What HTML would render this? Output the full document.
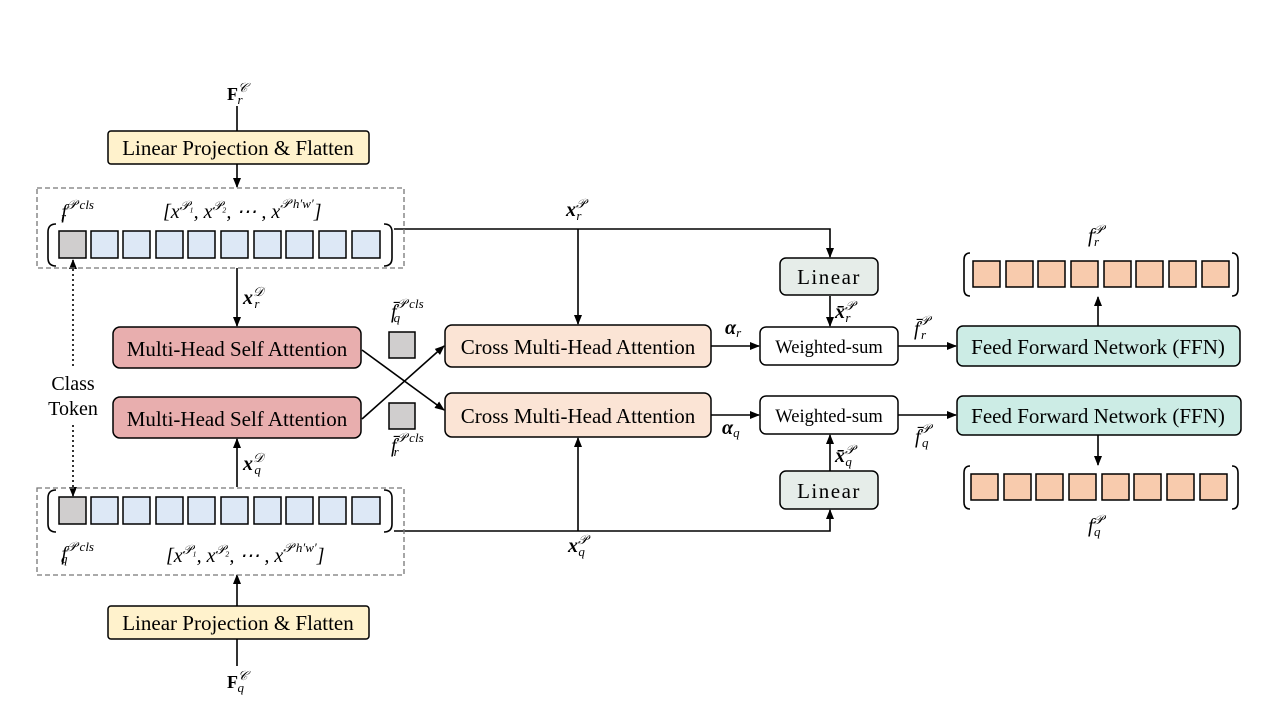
<!DOCTYPE html>
<html><head><meta charset="utf-8"><style>
body{margin:0;background:#fff;}
svg{display:block;font-family:"Liberation Serif",serif;}
.bx{font-size:21px;}
.m{font-style:italic;font-size:20px;}
.s{font-size:13px;font-style:italic;}
</style></head><body>
<svg width="1280" height="720" viewBox="0 0 1280 720" xmlns="http://www.w3.org/2000/svg">
<defs>
<marker id="a" markerWidth="10" markerHeight="10" refX="9" refY="5" orient="auto" markerUnits="userSpaceOnUse"><path d="M0,1 L10,5 L0,9 z" fill="#000"/></marker>
</defs>
<g stroke="#000" stroke-width="1.6" fill="none">
<line x1="237" y1="106" x2="237" y2="131"/>
<line x1="237" y1="164" x2="237" y2="187" marker-end="url(#a)"/>
<line x1="237" y1="268" x2="237" y2="326" marker-end="url(#a)"/>
<line x1="237" y1="487" x2="237" y2="439" marker-end="url(#a)"/>
<line x1="237" y1="606" x2="237" y2="575" marker-end="url(#a)"/>
<line x1="237" y1="639" x2="237" y2="666"/>
<polyline points="394,229 830,229 830,257" marker-end="url(#a)"/>
<line x1="578" y1="229" x2="578" y2="324" marker-end="url(#a)"/>
<polyline points="394,531 830,531 830,510" marker-end="url(#a)"/>
<line x1="578" y1="531" x2="578" y2="438" marker-end="url(#a)"/>
<line x1="362" y1="350" x2="444" y2="410" marker-end="url(#a)"/>
<line x1="362" y1="419" x2="444" y2="346" marker-end="url(#a)"/>
<line x1="711" y1="346" x2="759" y2="346" marker-end="url(#a)"/>
<line x1="711" y1="415" x2="759" y2="415" marker-end="url(#a)"/>
<line x1="830" y1="296" x2="830" y2="326" marker-end="url(#a)"/>
<line x1="830" y1="471" x2="830" y2="435" marker-end="url(#a)"/>
<line x1="898" y1="346" x2="956" y2="346" marker-end="url(#a)"/>
<line x1="898" y1="415" x2="956" y2="415" marker-end="url(#a)"/>
<line x1="1098" y1="326" x2="1098" y2="297" marker-end="url(#a)"/>
<line x1="1098" y1="435" x2="1098" y2="465" marker-end="url(#a)"/>
<line x1="73" y1="366" x2="73" y2="260" stroke-dasharray="2,3" marker-end="url(#a)"/>
<line x1="73" y1="425" x2="73" y2="496" stroke-dasharray="2,3" marker-end="url(#a)"/>
<rect x="37" y="188" width="367" height="80" stroke="#777" stroke-width="1.3" stroke-dasharray="5,3"/>
<rect x="37" y="488" width="367" height="87" stroke="#777" stroke-width="1.3" stroke-dasharray="5,3"/>
<path d="M56,224 Q48,224 48,232 L48,258 Q48,266 56,266"/>
<path d="M384,224 Q392,224 392,232 L392,258 Q392,266 384,266"/>
<path d="M56,490 Q48,490 48,498 L48,524 Q48,532 56,532"/>
<path d="M384,490 Q392,490 392,498 L392,524 Q392,532 384,532"/>
<path d="M970,253 Q964,253 964,260 L964,289 Q964,296 970,296"/>
<path d="M1232,253 Q1238,253 1238,260 L1238,289 Q1238,296 1232,296"/>
<path d="M970,466 Q964,466 964,473 L964,502 Q964,509 970,509"/>
<path d="M1232,466 Q1238,466 1238,473 L1238,502 Q1238,509 1232,509"/>
</g>
<g stroke="#000" stroke-width="1.5">
<rect x="108" y="131" width="261" height="33" rx="3" fill="#fff2cc"/>
<rect x="108" y="606" width="261" height="33" rx="3" fill="#fff2cc"/>
<rect x="113" y="327" width="248" height="41" rx="7" fill="#e8aeae"/>
<rect x="113" y="397" width="248" height="41" rx="7" fill="#e8aeae"/>
<rect x="389" y="332" width="26" height="26" fill="#d0cece"/>
<rect x="389" y="403" width="26" height="26" fill="#d0cece"/>
<rect x="445" y="325" width="266" height="42" rx="7" fill="#fbe4d5"/>
<rect x="445" y="393" width="266" height="44" rx="7" fill="#fbe4d5"/>
<rect x="760" y="327" width="138" height="38" rx="6" fill="#fff"/>
<rect x="760" y="396" width="138" height="38" rx="6" fill="#fff"/>
<rect x="780" y="258" width="98" height="37" rx="6" fill="#e6ede9"/>
<rect x="780" y="471" width="98" height="38" rx="6" fill="#e6ede9"/>
<rect x="957" y="326" width="283" height="40" rx="6" fill="#ccece5"/>
<rect x="957" y="396" width="284" height="39" rx="6" fill="#ccece5"/>
<rect x="59" y="231" width="27" height="27" fill="#d0cece"/>
<rect x="59" y="497" width="27" height="27" fill="#d0cece"/>
<g fill="#dde8f6">
<rect x="91" y="231" width="27" height="27"/><rect x="123" y="231" width="27" height="27"/><rect x="156" y="231" width="27" height="27"/><rect x="188" y="231" width="27" height="27"/><rect x="221" y="231" width="27" height="27"/><rect x="254" y="231" width="27" height="27"/><rect x="286" y="231" width="27" height="27"/><rect x="319" y="231" width="27" height="27"/><rect x="352" y="231" width="28" height="27"/>
<rect x="91" y="497" width="27" height="27"/><rect x="123" y="497" width="27" height="27"/><rect x="156" y="497" width="27" height="27"/><rect x="188" y="497" width="27" height="27"/><rect x="221" y="497" width="27" height="27"/><rect x="254" y="497" width="27" height="27"/><rect x="286" y="497" width="27" height="27"/><rect x="319" y="497" width="27" height="27"/><rect x="352" y="497" width="28" height="27"/>
</g>
<g fill="#f8cbad">
<rect x="973" y="261" width="27" height="26"/><rect x="1006" y="261" width="27" height="26"/><rect x="1038" y="261" width="27" height="26"/><rect x="1071" y="261" width="27" height="26"/><rect x="1104" y="261" width="27" height="26"/><rect x="1136" y="261" width="27" height="26"/><rect x="1169" y="261" width="27" height="26"/><rect x="1202" y="261" width="27" height="26"/>
<rect x="971" y="474" width="27" height="26"/><rect x="1004" y="474" width="27" height="26"/><rect x="1036" y="474" width="27" height="26"/><rect x="1069" y="474" width="27" height="26"/><rect x="1102" y="474" width="27" height="26"/><rect x="1134" y="474" width="27" height="26"/><rect x="1167" y="474" width="27" height="26"/><rect x="1200" y="474" width="27" height="26"/>
</g>
</g>
<g class="bx" text-anchor="middle" fill="#000">
<text x="238" y="155">Linear Projection &amp; Flatten</text>
<text x="238" y="630">Linear Projection &amp; Flatten</text>
<text x="237" y="356">Multi-Head Self Attention</text>
<text x="237" y="426">Multi-Head Self Attention</text>
<text x="578" y="354">Cross Multi-Head Attention</text>
<text x="578" y="423">Cross Multi-Head Attention</text>
<text x="829" y="284" letter-spacing="1.5">Linear</text>
<text x="829" y="498" letter-spacing="1.5">Linear</text>
<text x="1098" y="354">Feed Forward Network (FFN)</text>
<text x="1098" y="423">Feed Forward Network (FFN)</text>
<text x="73" y="390" font-size="20">Class</text>
<text x="73" y="415" font-size="20">Token</text>
<text x="829" y="353" font-size="18.5">Weighted-sum</text>
<text x="829" y="422" font-size="18.5">Weighted-sum</text>
</g>
<g fill="#000">
<text x="227" y="100" font-weight="bold" font-size="18">F<tspan class="s" font-weight="normal" dy="-8">𝒞</tspan><tspan class="s" font-weight="normal" dx="-10" dy="12">r</tspan></text>
<text x="227" y="688" font-weight="bold" font-size="18">F<tspan class="s" font-weight="normal" dy="-8">𝒞</tspan><tspan class="s" font-weight="normal" dx="-10" dy="12">q</tspan></text>
<text x="61" y="218" class="m">f<tspan class="s" dy="-9">𝒫 cls</tspan><tspan class="s" dx="-33" dy="12">r</tspan></text>
<text x="61" y="560" class="m">f<tspan class="s" dy="-9">𝒫 cls</tspan><tspan class="s" dx="-33" dy="12">q</tspan></text>
<text x="163" y="218" class="m" font-size="18">[x<tspan class="s" dy="-8">𝒫₁</tspan><tspan dy="8">, x</tspan><tspan class="s" dy="-8">𝒫₂</tspan><tspan dy="8">, ⋯ , x</tspan><tspan class="s" dy="-10">𝒫 h′w′</tspan><tspan dy="10">]</tspan></text>
<text x="166" y="562" class="m" font-size="18">[x<tspan class="s" dy="-8">𝒫₁</tspan><tspan dy="8">, x</tspan><tspan class="s" dy="-8">𝒫₂</tspan><tspan dy="8">, ⋯ , x</tspan><tspan class="s" dy="-10">𝒫 h′w′</tspan><tspan dy="10">]</tspan></text>
<text x="243" y="304" class="m" font-weight="bold">x<tspan class="s" font-weight="normal" dy="-8">𝒟</tspan><tspan class="s" font-weight="normal" dx="-9" dy="12">r</tspan></text>
<text x="243" y="470" class="m" font-weight="bold">x<tspan class="s" font-weight="normal" dy="-8">𝒟</tspan><tspan class="s" font-weight="normal" dx="-9" dy="12">q</tspan></text>
<text x="566" y="216" class="m" font-weight="bold">x<tspan class="s" font-weight="normal" dy="-8">𝒫</tspan><tspan class="s" font-weight="normal" dx="-9" dy="12">r</tspan></text>
<text x="568" y="552" class="m" font-weight="bold">x<tspan class="s" font-weight="normal" dy="-8">𝒫</tspan><tspan class="s" font-weight="normal" dx="-9" dy="12">q</tspan></text>
<text x="391" y="318" class="m">f̄<tspan class="s" dy="-10">𝒫 cls</tspan><tspan class="s" dx="-30" dy="14">q</tspan></text>
<text x="391" y="452" class="m">f̄<tspan class="s" dy="-10">𝒫 cls</tspan><tspan class="s" dx="-30" dy="14">r</tspan></text>
<text x="725" y="334" class="m" font-weight="bold">α<tspan class="s" font-weight="normal" dy="3">r</tspan></text>
<text x="722" y="434" class="m" font-weight="bold">α<tspan class="s" font-weight="normal" dy="3">q</tspan></text>
<text x="835" y="318" class="m" font-weight="bold">x̄<tspan class="s" font-weight="normal" dy="-8">𝒫</tspan><tspan class="s" font-weight="normal" dx="-9" dy="12">r</tspan></text>
<text x="835" y="462" class="m" font-weight="bold">x̄<tspan class="s" font-weight="normal" dy="-8">𝒫</tspan><tspan class="s" font-weight="normal" dx="-9" dy="12">q</tspan></text>
<text x="914" y="335" class="m">f̄<tspan class="s" dy="-10">𝒫</tspan><tspan class="s" dx="-8" dy="14">r</tspan></text>
<text x="915" y="443" class="m">f̄<tspan class="s" dy="-10">𝒫</tspan><tspan class="s" dx="-8" dy="14">q</tspan></text>
<text x="1088" y="242" class="m">f<tspan class="s" dy="-8">𝒫</tspan><tspan class="s" dx="-9" dy="12">r</tspan></text>
<text x="1088" y="532" class="m">f<tspan class="s" dy="-8">𝒫</tspan><tspan class="s" dx="-9" dy="12">q</tspan></text>
</g>
</svg>
</body></html>
